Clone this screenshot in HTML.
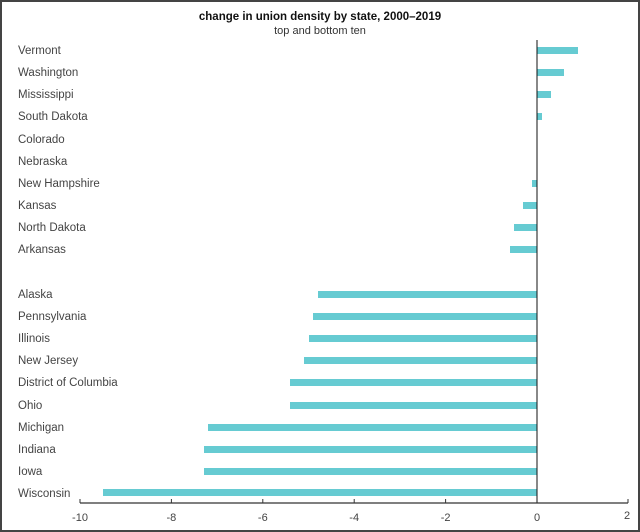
<!DOCTYPE html>
<html><head><style>
html,body{margin:0;padding:0;background:#fff}
svg{display:block}
text{font-family:"Liberation Sans",sans-serif}
</style></head><body>
<svg width="640" height="532" viewBox="0 0 640 532">
<rect x="1" y="1" width="638" height="530" fill="#fff" stroke="#444" stroke-width="2"/>
<text x="320" y="20" text-anchor="middle" font-size="11.5" font-weight="bold" fill="#111">change in union density by state, 2000–2019</text>
<text x="320" y="34" text-anchor="middle" font-size="11" fill="#333">top and bottom ten</text>
<g font-size="11.5" fill="#444">
<text x="18" y="54">Vermont</text>
<text x="18" y="76">Washington</text>
<text x="18" y="98">Mississippi</text>
<text x="18" y="120">South Dakota</text>
<text x="18" y="143">Colorado</text>
<text x="18" y="165">Nebraska</text>
<text x="18" y="187">New Hampshire</text>
<text x="18" y="209">Kansas</text>
<text x="18" y="231">North Dakota</text>
<text x="18" y="253">Arkansas</text>
<text x="18" y="298">Alaska</text>
<text x="18" y="320">Pennsylvania</text>
<text x="18" y="342">Illinois</text>
<text x="18" y="364">New Jersey</text>
<text x="18" y="386">District of Columbia</text>
<text x="18" y="409">Ohio</text>
<text x="18" y="431">Michigan</text>
<text x="18" y="453">Indiana</text>
<text x="18" y="475">Iowa</text>
<text x="18" y="497">Wisconsin</text>
</g>
<g fill="#66cbd2">
<rect x="537" y="47" width="41" height="7"/>
<rect x="537" y="69" width="27" height="7"/>
<rect x="537" y="91" width="14" height="7"/>
<rect x="537" y="113" width="5" height="7"/>
<rect x="532" y="180" width="5" height="7"/>
<rect x="523" y="202" width="14" height="7"/>
<rect x="514" y="224" width="23" height="7"/>
<rect x="510" y="246" width="27" height="7"/>
<rect x="318" y="291" width="219" height="7"/>
<rect x="313" y="313" width="224" height="7"/>
<rect x="309" y="335" width="228" height="7"/>
<rect x="304" y="357" width="233" height="7"/>
<rect x="290" y="379" width="247" height="7"/>
<rect x="290" y="402" width="247" height="7"/>
<rect x="208" y="424" width="329" height="7"/>
<rect x="204" y="446" width="333" height="7"/>
<rect x="204" y="468" width="333" height="7"/>
<rect x="103" y="489" width="434" height="7"/>
</g>
<line x1="537" y1="40" x2="537" y2="503" stroke="#111" stroke-width="1"/>
<line x1="80" y1="503" x2="628" y2="503" stroke="#333" stroke-width="1.2"/>
<g stroke="#333" stroke-width="1">
<line x1="80" y1="499" x2="80" y2="503"/><line x1="171.4" y1="499" x2="171.4" y2="503"/>
<line x1="262.8" y1="499" x2="262.8" y2="503"/><line x1="354.2" y1="499" x2="354.2" y2="503"/>
<line x1="445.6" y1="499" x2="445.6" y2="503"/><line x1="628" y1="499" x2="628" y2="503"/>
</g>
<g font-size="11" fill="#444" text-anchor="middle">
<text x="80" y="521">-10</text><text x="171.4" y="521">-8</text><text x="262.8" y="521">-6</text>
<text x="354.2" y="521">-4</text><text x="445.6" y="521">-2</text><text x="537" y="521">0</text><text x="627" y="519">2</text>
</g>
</svg>
</body></html>
